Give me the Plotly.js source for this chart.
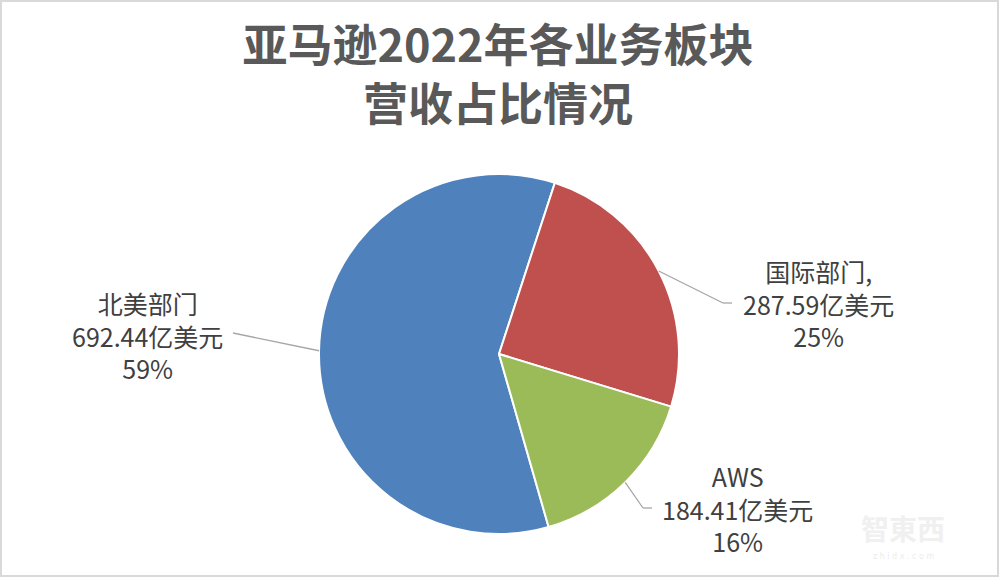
<!DOCTYPE html>
<html>
<head>
<meta charset="utf-8">
<script src="https://cdn.plot.ly/plotly-3.0.1.min.js"></script>
<style>
  html, body { margin: 0; padding: 0; background: #ffffff; }
  #wrap { position: relative; width: 1000px; height: 578px; }
  #chart { width: 1000px; height: 578px; }
  #frame { position: absolute; left: 0; top: 0; width: 999px; height: 577px; box-sizing: border-box;
           border: 2px solid #d9d9d9; pointer-events: none; }
</style>
</head>
<body>
<div id="wrap">
  <div id="chart"></div>
  <div id="frame"></div>
</div>
<script>
// ---- data ----
const categories = ['北美部门', '国际部门', 'AWS'];
const labelNames = ['北美部门', '国际部门,', 'AWS'];
const values = [692.44, 287.59, 184.41];
const unit = '亿美元';
const sliceColors = ['#4F81BD', '#C0504D', '#9BBB59'];
const titleText = '亚马逊2022年各业务板块<br>营收占比情况';

// ---- layout geometry ----
const W = 1000, H = 578;
const M = { l: 319, r: 321, t: 174, b: 44 };
const plotW = W - M.l - M.r, plotH = H - M.t - M.b;
const R = Math.min(plotW, plotH) / 2;
const cx = M.l + plotW / 2, cy = M.t + plotH / 2;
const rotation = 164;
const px2x = px => (px - M.l) / plotW;
const py2y = py => (H - M.b - py) / plotH;

// label block centres and leader-line bends (pixels)
const labelPos = [[147, 335], [818, 303], [737, 508]];
const leaderPath = [
  [[233, 333]],
  [[723, 303], [732, 303]],
  [[643, 508], [652, 508]]
];

const total = values.reduce((a, b) => a + b, 0);
const annotations = [];
const shapes = [];
let ang = rotation;
values.forEach((v, i) => {
  const frac = v / total;
  const mid = (ang + frac * 180) * Math.PI / 180;
  ang += frac * 360;
  const sx = cx + R * Math.sin(mid), sy = cy - R * Math.cos(mid);
  const pts = [[sx, sy]].concat(leaderPath[i]);
  for (let k = 0; k < pts.length - 1; k++) {
    shapes.push({
      type: 'line', xref: 'paper', yref: 'paper',
      x0: px2x(pts[k][0]), y0: py2y(pts[k][1]),
      x1: px2x(pts[k + 1][0]), y1: py2y(pts[k + 1][1]),
      line: { color: '#a6a6a6', width: 1.3 }
    });
  }
  const pct = Math.round(frac * 100) + '%';
  annotations.push({
    xref: 'paper', yref: 'paper',
    x: px2x(labelPos[i][0]), y: py2y(labelPos[i][1]),
    xanchor: 'center', yanchor: 'middle', showarrow: false,
    text: labelNames[i] + '<br>' + v.toFixed(2) + unit + '<br>' + pct,
    font: { family: '"Noto Sans CJK SC", "Noto Sans", sans-serif', size: 25, color: '#404040' }
  });
});

// faint watermark
annotations.push({
  xref: 'paper', yref: 'paper', x: px2x(903), y: py2y(528), xanchor: 'center', yanchor: 'middle',
  showarrow: false, text: '智東西',
  font: { family: '"Noto Sans CJK TC", sans-serif', size: 28, color: '#f0f0f0', weight: 700 }
});
annotations.push({
  xref: 'paper', yref: 'paper', x: px2x(903), y: py2y(556), xanchor: 'center', yanchor: 'middle',
  showarrow: false, text: 'z h i d x . c o m',
  font: { family: 'DejaVu Sans, sans-serif', size: 8, color: '#ececec' }
});

const trace = {
  type: 'pie',
  labels: categories,
  values: values,
  sort: false,
  direction: 'clockwise',
  rotation: rotation,
  textinfo: 'none',
  hoverinfo: 'label+value+percent',
  marker: { colors: sliceColors, line: { color: '#ffffff', width: 2 } },
  showlegend: false
};

const layout = {
  width: W, height: H,
  margin: M,
  paper_bgcolor: '#ffffff',
  plot_bgcolor: '#ffffff',
  showlegend: false,
  title: {
    text: titleText,
    x: 0.498, xref: 'container', xanchor: 'center',
    y: 1 - 62 / H, yref: 'container', yanchor: 'middle',
    font: { family: '"Noto Sans CJK SC", sans-serif', size: 45, color: '#595959', weight: 700 }
  },
  annotations: annotations,
  shapes: shapes
};

Plotly.newPlot('chart', [trace], layout, { displayModeBar: false, staticPlot: true });
</script>
</body>
</html>
